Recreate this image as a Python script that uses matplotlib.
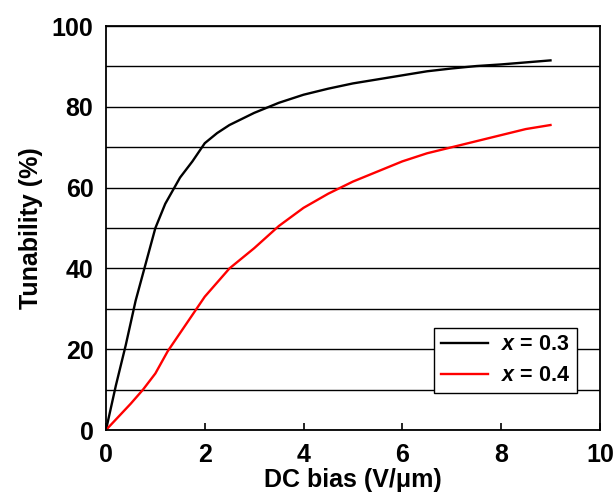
import numpy as np
import matplotlib.pyplot as plt
from matplotlib.ticker import MultipleLocator

plt.rcParams["font.family"] = ["Liberation Sans", "DejaVu Sans"]
plt.rcParams["font.weight"] = "bold"
plt.rcParams["mathtext.fontset"] = "custom"
plt.rcParams["mathtext.it"] = "Liberation Sans:italic:bold"

# x = 0.3 (black)
bias_03 = [0, 0.2, 0.4, 0.6, 0.8, 1.0, 1.2, 1.5, 1.75, 2.0, 2.25, 2.5, 3.0, 3.5,
           4.0, 4.5, 5.0, 6.0, 6.5, 7.0, 7.5, 8.0, 8.5, 9.0]
tun_03 = [0, 11, 21, 32, 41, 50, 56, 62.5, 66.5, 71, 73.5, 75.5, 78.5, 81,
          83, 84.5, 85.8, 87.8, 88.8, 89.5, 90.1, 90.5, 91, 91.5]

# x = 0.4 (red)
bias_04 = [0, 0.5, 0.75, 1.0, 1.25, 1.5, 2.0, 2.5, 3.0, 3.5, 4.0, 4.5, 5.0,
           5.5, 6.0, 6.5, 7.0, 7.5, 8.0, 8.5, 9.0]
tun_04 = [0, 6.5, 10, 14, 19.5, 24, 33, 40, 45, 50.5, 55, 58.5, 61.5,
          64, 66.5, 68.5, 70, 71.5, 73, 74.5, 75.5]

fig = plt.figure(figsize=(6.14, 5.01), dpi=100)
ax = fig.add_axes([0.1726, 0.1417, 0.8044, 0.8063])

ax.plot(bias_03, tun_03, color="black", lw=1.7, label="$x$ = 0.3")
ax.plot(bias_04, tun_04, color="red", lw=1.7, label="$x$ = 0.4")

ax.set_xlim(0, 10)
ax.set_ylim(0, 100)
ax.xaxis.set_major_locator(MultipleLocator(2))
ax.yaxis.set_major_locator(MultipleLocator(20))
ax.yaxis.set_minor_locator(MultipleLocator(10))
ax.grid(True, axis="y", which="both", color="black", lw=1.0)
ax.set_axisbelow(True)

ax.tick_params(axis="x", direction="in", length=5, width=1.2, pad=9, labelsize=18)
ax.tick_params(axis="y", which="both", length=0, pad=9, labelsize=18)
for s in ax.spines.values():
    s.set_linewidth(1.3)

ax.set_xlabel("DC bias (V/\u03bcm)", fontsize=18, fontweight="bold", labelpad=1)
ax.set_ylabel("Tunability (%)", fontsize=18, fontweight="bold", labelpad=6)

leg = ax.legend(loc="lower right", bbox_to_anchor=(0.953, 0.092), fontsize=15.5,
                frameon=True, fancybox=False, edgecolor="black", framealpha=1,
                handlelength=2.2, handletextpad=0.6, borderpad=0.3,
                labelspacing=0.47, borderaxespad=0)
leg.get_frame().set_linewidth(1.0)

fig.savefig("out.png", dpi=100)
